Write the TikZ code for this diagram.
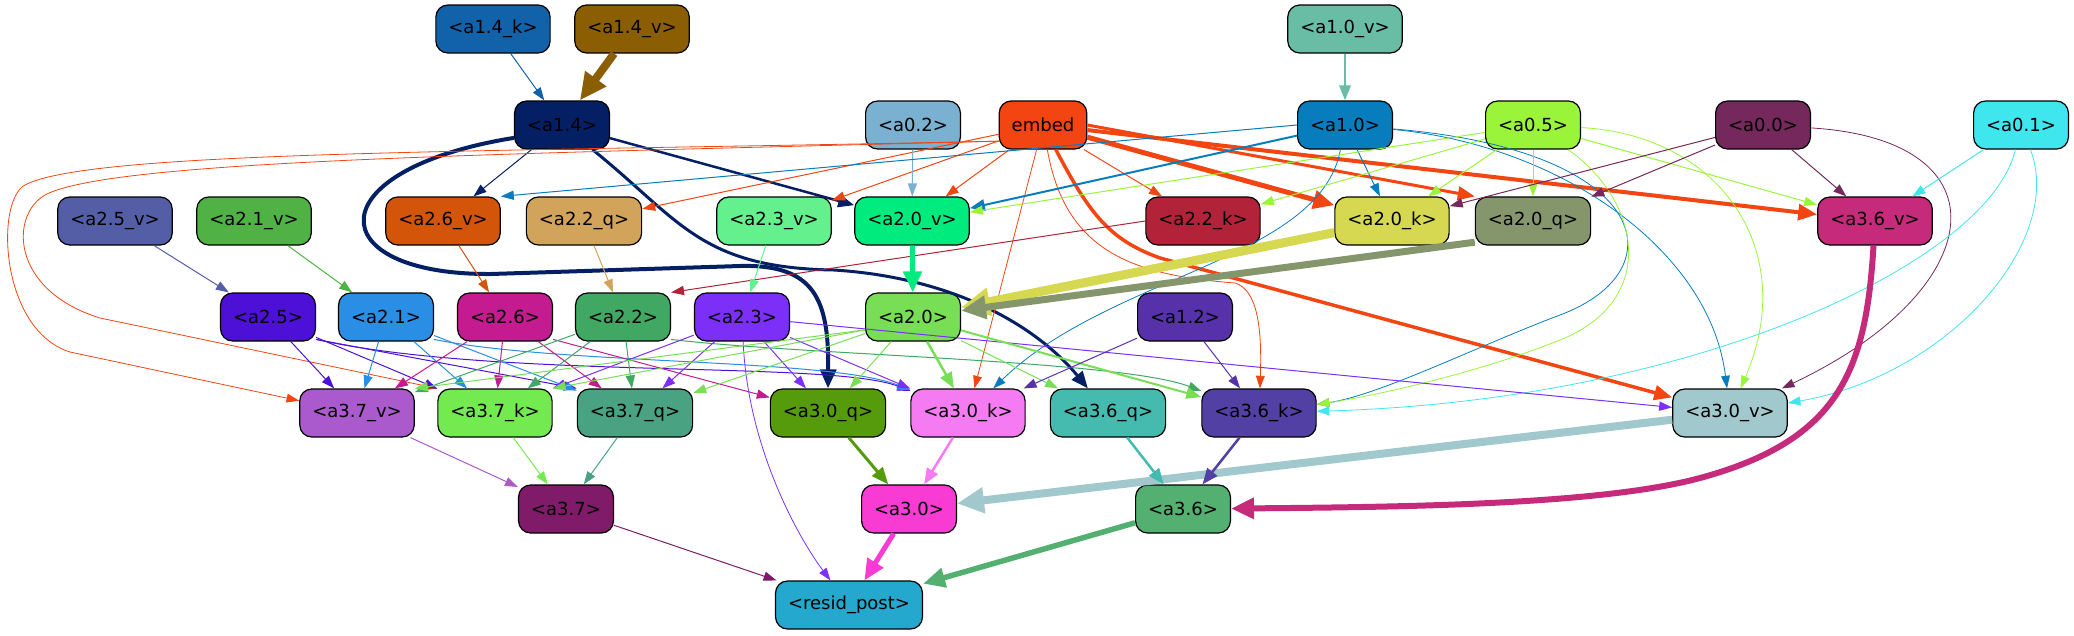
\documentclass[tikz,border=0pt]{standalone}
\usepackage{fontspec}
\setmainfont{DejaVu Sans}
\usetikzlibrary{arrows.meta}

\definecolor{c14k}{HTML}{1262AA}
\definecolor{c14v}{HTML}{8C5E04}
\definecolor{c10v}{HTML}{6ABDA5}
\definecolor{c14}{HTML}{041F63}
\definecolor{c02}{HTML}{7AB0D0}
\definecolor{cembed}{HTML}{F24511}
\definecolor{c10}{HTML}{087DBD}
\definecolor{c05}{HTML}{9AF43A}
\definecolor{c00}{HTML}{74285B}
\definecolor{c01}{HTML}{40E6EE}
\definecolor{c25v}{HTML}{535EA6}
\definecolor{c21v}{HTML}{50B245}
\definecolor{c26v}{HTML}{D3550A}
\definecolor{c22q}{HTML}{D2A35A}
\definecolor{c23v}{HTML}{65F08E}
\definecolor{c20v}{HTML}{00EB7E}
\definecolor{c22k}{HTML}{B22339}
\definecolor{c20k}{HTML}{D5D850}
\definecolor{c20q}{HTML}{86966C}
\definecolor{c36v}{HTML}{C62A7A}
\definecolor{c25}{HTML}{4D10D6}
\definecolor{c21}{HTML}{2A8EE4}
\definecolor{c26}{HTML}{C41C90}
\definecolor{c22}{HTML}{40A862}
\definecolor{c23}{HTML}{7B2FF7}
\definecolor{c20}{HTML}{78DE55}
\definecolor{c12}{HTML}{5631A9}
\definecolor{c37v}{HTML}{AB5ACD}
\definecolor{c37k}{HTML}{73EB50}
\definecolor{c37q}{HTML}{49A383}
\definecolor{c30q}{HTML}{569B0C}
\definecolor{c30k}{HTML}{F47BF2}
\definecolor{c36q}{HTML}{45BBAF}
\definecolor{c36k}{HTML}{5340A5}
\definecolor{c30v}{HTML}{A1C8CC}
\definecolor{c37}{HTML}{7F1B68}
\definecolor{c30}{HTML}{F83BD3}
\definecolor{c36}{HTML}{53B070}
\definecolor{cresid}{HTML}{24A8CE}

\tikzset{
  blk/.style={draw, line width=1.2pt, rounded corners=12pt, minimum height=48pt,
    inner xsep=12.5pt, inner ysep=0pt, font=\fontsize{18pt}{22pt}\selectfont},
  wire/.style={-{Triangle[length=11pt 2,width=7pt 2.2]}, line width=1pt},
}

\begin{document}
\begin{tikzpicture}[x=1pt,y=-1pt]
\useasboundingbox (0,0) rectangle (2074,635);

\node[blk, fill=c14k] (a14k) at (493,29) {<a1.4\_k>};
\node[blk, fill=c14v] (a14v) at (632,29) {<a1.4\_v>};
\node[blk, fill=c10v] (a10v) at (1345,29) {<a1.0\_v>};

\node[blk, fill=c14] (a14) at (562,125) {<a1.4>};
\node[blk, fill=c02] (a02) at (913,125) {<a0.2>};
\node[blk, fill=cembed] (embed) at (1043,125) {embed};
\node[blk, fill=c10] (a10) at (1345,125) {<a1.0>};
\node[blk, fill=c05] (a05) at (1533,125) {<a0.5>};
\node[blk, fill=c00] (a00) at (1763,125) {<a0.0>};
\node[blk, fill=c01] (a01) at (2021,125) {<a0.1>};

\node[blk, fill=c25v] (a25v) at (115,221) {<a2.5\_v>};
\node[blk, fill=c21v] (a21v) at (254,221) {<a2.1\_v>};
\node[blk, fill=c26v] (a26v) at (443,221) {<a2.6\_v>};
\node[blk, fill=c22q] (a22q) at (584,221) {<a2.2\_q>};
\node[blk, fill=c23v] (a23v) at (774,221) {<a2.3\_v>};
\node[blk, fill=c20v] (a20v) at (912,221) {<a2.0\_v>};
\node[blk, fill=c22k] (a22k) at (1203,221) {<a2.2\_k>};
\node[blk, fill=c20k] (a20k) at (1392,221) {<a2.0\_k>};
\node[blk, fill=c20q] (a20q) at (1533,221) {<a2.0\_q>};
\node[blk, fill=c36v] (a36v) at (1875,221) {<a3.6\_v>};

\node[blk, fill=c25] (a25) at (268,317) {<a2.5>};
\node[blk, fill=c21] (a21) at (386,317) {<a2.1>};
\node[blk, fill=c26] (a26) at (505,317) {<a2.6>};
\node[blk, fill=c22] (a22) at (623,317) {<a2.2>};
\node[blk, fill=c23] (a23) at (742,317) {<a2.3>};
\node[blk, fill=c20] (a20) at (913,317) {<a2.0>};
\node[blk, fill=c12] (a12) at (1185,317) {<a1.2>};

\node[blk, fill=c37v] (a37v) at (357,413) {<a3.7\_v>};
\node[blk, fill=c37k] (a37k) at (495,413) {<a3.7\_k>};
\node[blk, fill=c37q] (a37q) at (635,413) {<a3.7\_q>};
\node[blk, fill=c30q] (a30q) at (828,413) {<a3.0\_q>};
\node[blk, fill=c30k] (a30k) at (968,413) {<a3.0\_k>};
\node[blk, fill=c36q] (a36q) at (1108,413) {<a3.6\_q>};
\node[blk, fill=c36k] (a36k) at (1259,413) {<a3.6\_k>};
\node[blk, fill=c30v] (a30v) at (1730,413) {<a3.0\_v>};

\node[blk, fill=c37] (a37) at (566,509) {<a3.7>};
\node[blk, fill=c30] (a30) at (909,509) {<a3.0>};
\node[blk, fill=c36] (a36) at (1183,509) {<a3.6>};

\node[blk, fill=cresid] (resid) at (849,605) {<resid\_post>};

% top inputs
\draw[wire, c14k] (a14k) -- (a14);
\draw[wire, c14v, line width=8pt] (a14v) -- (a14);
\draw[wire, c10v, line width=2pt] (a10v) -- (a10);

% a1.4
\draw[wire, c14] (a14) -- (a26v);
\draw[wire, c14, line width=2.5pt] (a14) -- (a20v);
\draw[wire, c14, line width=4pt] (a14.195) .. controls (315,170) and (320,275) .. (491,274)
  -- (740,266) .. controls (815,264) and (829,300) .. (a30q.north);
\draw[wire, c14, line width=3pt] (a14) .. controls (680,220) and (700,268) .. (834,270)
  .. controls (960,278) and (1040,330) .. (a36q);

% embed
\draw[wire, cembed] (embed) -- (a23v);
\draw[wire, cembed] (embed) -- (a20v);
\draw[wire, cembed] (embed) -- (a22q);
\draw[wire, cembed] (embed) -- (a22k);
\draw[wire, cembed, line width=5pt] (embed) -- (a20k);
\draw[wire, cembed, line width=3pt] (embed.east) -- (a20q.north west);
\draw[wire, cembed, line width=4pt] (embed) -- (a36v);
\draw[wire, cembed, line width=3.5pt] (embed) .. controls (1090,215) and (1110,240) .. (1160,258) -- (a30v);
\draw[wire, cembed, line width=0.8pt] (embed) -- (a30k);
\draw[wire, cembed, line width=0.8pt] (embed) .. controls (1065,250) and (1130,275) .. (1235,283)
  .. controls (1258,290) and (1262,330) .. (a36k);
\draw[wire, cembed, line width=0.8pt] (embed.200) .. controls (500,152) and (90,150) .. (25,185)
  .. controls (-5,201) and (0,330) .. (70,352) -- (a37v);
\draw[wire, cembed, line width=0.8pt] (embed.200) .. controls (500,154) and (110,160) .. (45,195)
  .. controls (10,215) and (10,290) .. (100,318) -- (a37k.north west);

% a0.2, a1.0
\draw[wire, c02] (a02) -- (a20v);
\draw[wire, c10, line width=2pt] (a10) -- (a20v);
\draw[wire, c10] (a10.west) -- (a26v.north east);
\draw[wire, c10] (a10) -- (a20k);
\draw[wire, c10, line width=0.8pt] (a10) .. controls (1320,260) and (1110,275) .. (a30k);
\draw[wire, c10, line width=0.8pt] (a10) .. controls (1650,150) and (1680,270) .. (1560,315)
  .. controls (1480,345) and (1380,395) .. (a36k);
\draw[wire, c10, line width=0.8pt] (a10) .. controls (1560,145) and (1710,250) .. (a30v);

% a0.5
\draw[wire, c05] (a05) -- (a20v);
\draw[wire, c05] (a05) -- (a22k);
\draw[wire, c05] (a05) -- (a20k);
\draw[wire, c05] (a05) -- (a20q);
\draw[wire, c05] (a05) -- (a36v);
\draw[wire, c05, line width=0.8pt] (a05) .. controls (1640,200) and (1660,300) .. (1560,340)
  .. controls (1480,372) and (1380,395) .. (a36k);
\draw[wire, c05, line width=0.8pt] (a05) .. controls (1720,135) and (1800,250) .. (a30v);

% a0.0, a0.1
\draw[wire, c00] (a00) -- (a20k);
\draw[wire, c00] (a00) -- (a20q);
\draw[wire, c00] (a00) -- (a36v);
\draw[wire, c00, line width=0.8pt] (a00) .. controls (2010,140) and (1990,290) .. (a30v);
\draw[wire, c01] (a01) -- (a36v);
\draw[wire, c01, line width=0.8pt] (a01) .. controls (1990,260) and (1700,400) .. (a36k);
\draw[wire, c01, line width=0.8pt] (a01) .. controls (2065,240) and (1950,375) .. (a30v);

% layer 2 inputs
\draw[wire, c25v] (a25v) -- (a25);
\draw[wire, c21v] (a21v) -- (a21);
\draw[wire, c26v] (a26v) -- (a26);
\draw[wire, c22q] (a22q) -- (a22);
\draw[wire, c22k] (a22k.west) -- (a22.north east);
\draw[wire, c23v] (a23v) -- (a23);
\draw[wire, c20v, line width=5pt] (a20v) -- (a20);
\draw[wire, c20k, line width=9pt] (a20k) -- (a20);
\draw[wire, c20q, line width=7pt] (a20q.200) -- (a20);
\draw[wire, c36v, line width=6pt] (a36v) .. controls (1866,370) and (1840,440) .. (1700,478)
  .. controls (1600,505) and (1400,507) .. (a36);

% layer 2 outputs
\draw[wire, c25] (a25) -- (a37v);
\draw[wire, c25] (a25) -- (a37k);
\draw[wire, c25] (a25.-25) -- (a37q.north west);
\draw[wire, c25] (a25.-25) .. controls (500,380) and (830,360) .. (a30k);
\draw[wire, c21] (a21) -- (a37v);
\draw[wire, c21] (a21) -- (a37k);
\draw[wire, c21] (a21) -- (a37q);
\draw[wire, c21] (a21.-25) .. controls (560,365) and (830,358) .. (a30k);
\draw[wire, c26] (a26) -- (a37v);
\draw[wire, c26] (a26) -- (a37k);
\draw[wire, c26] (a26) -- (a37q);
\draw[wire, c26] (a26.-25) -- (a30q);
\draw[wire, c22] (a22) -- (a37v);
\draw[wire, c22] (a22) -- (a37k);
\draw[wire, c22] (a22) -- (a37q);
\draw[wire, c22] (a22.-25) .. controls (800,355) and (1120,360) .. (a36k);
\draw[wire, c23] (a23) -- (a37k.north east);
\draw[wire, c23] (a23) -- (a37q);
\draw[wire, c23] (a23) -- (a30q);
\draw[wire, c23] (a23) -- (a30k);
\draw[wire, c23] (a23) -- (a30v);
\draw[wire, c23, line width=0.8pt] (a23) .. controls (748,450) and (800,540) .. (resid);
\draw[wire, c20] (a20.195) -- (a37v.north east);
\draw[wire, c20] (a20.195) -- (a37k.north east);
\draw[wire, c20] (a20) -- (a37q);
\draw[wire, c20] (a20) -- (a30q);
\draw[wire, c20, line width=2.5pt] (a20) -- (a30k);
\draw[wire, c20] (a20) -- (a36q);
\draw[wire, c20, line width=2pt] (a20) -- (a36k);
\draw[wire, c12] (a12) -- (a30k);
\draw[wire, c12] (a12) -- (a36k);

% layer 3
\draw[wire, c37v] (a37v) -- (a37);
\draw[wire, c37k] (a37k) -- (a37);
\draw[wire, c37q] (a37q) -- (a37);
\draw[wire, c30q, line width=3pt] (a30q) -- (a30);
\draw[wire, c30k, line width=2.5pt] (a30k) -- (a30);
\draw[wire, c30v, line width=8pt] (a30v) -- (a30);
\draw[wire, c36q, line width=2.5pt] (a36q) -- (a36);
\draw[wire, c36k, line width=2.5pt] (a36k) -- (a36);
\draw[wire, c37] (a37) -- (resid);
\draw[wire, c30, line width=5pt] (a30) -- (resid);
\draw[wire, c36, line width=5.5pt] (a36) -- (resid);

\end{tikzpicture}
\end{document}
